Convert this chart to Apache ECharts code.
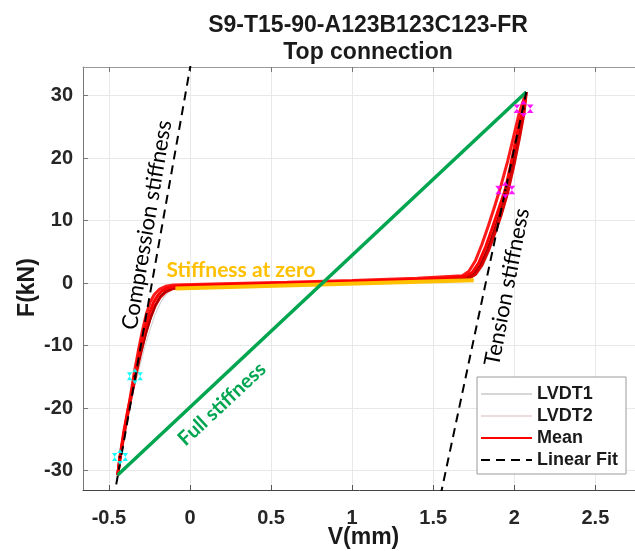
<!DOCTYPE html>
<html>
<head>
<meta charset="utf-8">
<script src="https://cdn.jsdelivr.net/npm/echarts@6/dist/echarts.min.js"></script>
<style>
html,body{margin:0;padding:0;background:#fff;}
#chart{width:635px;height:551px;}
</style>
</head>
<body>
<div id="chart"></div>
<script>
// ---------- data ----------
var titleLine1 = 'S9-T15-90-A123B123C123-FR';
var titleLine2 = 'Top connection';
var xTicks = [-0.5, 0, 0.5, 1, 1.5, 2, 2.5];
var yTicks = [-30, -20, -10, 0, 10, 20, 30];

var meanCurve = [[-0.446,-30.7],[-0.432,-27.8],[-0.41,-24],[-0.385,-20.5],[-0.36,-17.5],[-0.34,-14.9],[-0.32,-12.2],[-0.30,-9.6],[-0.275,-7.0],[-0.25,-4.8],[-0.225,-3.1],[-0.20,-2.0],[-0.175,-1.3],[-0.14,-0.8],[-0.10,-0.55],[-0.05,-0.4],[0.2,-0.25],[0.5,-0.05],[0.8,0.15],[1.1,0.35],[1.4,0.6],[1.6,0.85],[1.70,1.1],[1.74,1.7],[1.78,3.2],[1.82,5.6],[1.86,8.5],[1.90,11.6],[1.944,14.9],[1.975,18.6],[2.005,22.4],[2.035,26.0],[2.057,27.9],[2.074,30.6]];

var cycleA = [[-0.446,-30.7],[-0.43,-27.5],[-0.40,-23],[-0.37,-18.5],[-0.345,-14.5],[-0.32,-11],[-0.295,-7.8],[-0.27,-5.0],[-0.245,-3.0],[-0.22,-1.8],[-0.19,-1.0],[-0.15,-0.5],[-0.10,-0.3],[0.2,-0.1],[0.6,0.15],[1.0,0.45],[1.4,0.8],[1.68,1.2],[1.72,1.9],[1.76,3.6],[1.80,6.2],[1.84,9.2],[1.88,12.4],[1.92,15.8],[1.96,19.6],[1.995,23.4],[2.03,27.2],[2.074,30.6]];
var cycleB = [[-0.446,-30.7],[-0.425,-27],[-0.395,-22.5],[-0.365,-18.5],[-0.335,-14.8],[-0.305,-11.3],[-0.275,-8.2],[-0.245,-5.6],[-0.215,-3.6],[-0.185,-2.3],[-0.15,-1.4],[-0.11,-0.9],[-0.06,-0.7],[0.2,-0.5],[0.6,-0.25],[1.0,0.0],[1.4,0.3],[1.72,0.8],[1.76,1.4],[1.80,2.9],[1.84,5.2],[1.88,8.0],[1.92,11.0],[1.96,14.6],[1.995,18.6],[2.03,23.0],[2.06,27.2],[2.074,30.6]];
var cycleC = [[-0.44,-29.5],[-0.42,-26],[-0.39,-21.5],[-0.36,-17.8],[-0.33,-14.2],[-0.30,-10.8],[-0.27,-7.9],[-0.24,-5.4],[-0.21,-3.4],[-0.18,-2.0],[-0.145,-1.2],[-0.10,-0.7],[-0.05,-0.5],[0.3,-0.3],[0.7,-0.05],[1.1,0.2],[1.5,0.55],[1.71,0.95],[1.75,1.6],[1.79,3.0],[1.83,5.3],[1.87,8.2],[1.91,11.3],[1.95,14.9],[1.99,19.2],[2.02,23.2],[2.05,27.0],[2.07,30.0]];

var lvdt1 = [[-0.44,-30],[-0.42,-26.5],[-0.39,-22],[-0.355,-18],[-0.32,-14.3],[-0.285,-10.8],[-0.25,-7.7],[-0.215,-5.0],[-0.18,-3.0],[-0.145,-1.7],[-0.11,-1.0],[-0.06,-0.7],[0.3,-0.5],[0.8,-0.2],[1.3,0.2],[1.72,0.7],[1.77,1.4],[1.81,2.9],[1.85,5.3],[1.89,8.3],[1.93,11.5],[1.97,15.2],[2.01,19.6],[2.04,23.8],[2.07,29.5]];
var lvdt2 = [[-0.445,-30.3],[-0.425,-27],[-0.40,-23],[-0.375,-19.5],[-0.35,-16.2],[-0.325,-13.0],[-0.30,-10.0],[-0.275,-7.2],[-0.25,-4.8],[-0.225,-3.0],[-0.195,-1.7],[-0.16,-0.9],[-0.12,-0.5],[0.3,-0.2],[0.8,0.1],[1.3,0.5],[1.68,1.0],[1.72,1.8],[1.76,3.4],[1.80,5.9],[1.84,8.9],[1.88,12.1],[1.92,15.5],[1.96,19.4],[2.00,23.6],[2.04,28.0],[2.07,30.3]];

var compressionFit = [[-0.455,-32.2],[0.004,35.0]];
var tensionFit = [[1.545,-34.0],[2.074,30.6]];
var fullStiffness = [[-0.446,-30.7],[2.074,30.6]];
var zeroStiffness = [[-0.09,-0.85],[1.75,0.48]];

var cyanPoints = [[-0.432,-27.8],[-0.34,-14.9]];
var magentaPoints = [[1.944,14.9],[2.057,27.9]];

var annotations = [
  {text:'Compression stiffness', x:147, y:225, angle:80.5, color:'#000000', weight:'normal', size:22},
  {text:'Stiffness at zero', x:241, y:270, angle:0, color:'#FFC000', weight:'bold', size:21},
  {text:'Full stiffness', x:222, y:404, angle:43, color:'#00A550', weight:'bold', size:20},
  {text:'Tension stiffness', x:507, y:287, angle:79, color:'#000000', weight:'normal', size:22}
];

// ---------- chart ----------
var chart = echarts.init(document.getElementById('chart'), null, {renderer:'canvas'});
var fontFam = 'Arial, "Liberation Sans", sans-serif';
var annFont = 'Lato, "Open Sans", sans-serif';

function lineSeries(name, data, color, width, extra) {
  var s = {
    name: name, type: 'line', data: data, showSymbol: false, symbol: 'none',
    lineStyle: {color: color, width: width}, itemStyle: {color: color},
    animation: false, silent: true, clip: true, z: 2
  };
  if (extra) { for (var k in extra) s[k] = extra[k]; }
  return s;
}

var hexagram = 'path://M0,-10L8.66,5L-8.66,5ZM0,10L8.66,-5L-8.66,-5Z';

var option = {
  backgroundColor: '#ffffff',
  animation: false,
  title: [
    {text: titleLine1, left: 363, top: 9, textAlign: 'center',
     textStyle: {fontFamily: fontFam, fontSize: 23, fontWeight: 'bold', color: '#1a1a1a'}},
    {text: titleLine2, left: 363, top: 36, textAlign: 'center',
     textStyle: {fontFamily: fontFam, fontSize: 23, fontWeight: 'bold', color: '#1a1a1a'}}
  ],
  grid: {left: 83, right: -9, top: 67, bottom: 61, containLabel: false, outerBoundsMode: 'none'},
  legend: {
    data: ['LVDT1', 'LVDT2', 'Mean', 'Linear Fit'],
    orient: 'vertical', left: 477, top: 377,
    backgroundColor: '#ffffff', borderColor: '#9a9a9a', borderWidth: 1,
    padding: [8, 8, 5, 3], itemWidth: 51, itemHeight: 12, itemGap: 4,
    itemStyle: {color: 'rgba(0,0,0,0)', borderWidth: 0, opacity: 0},
    textStyle: {fontFamily: fontFam, fontSize: 18, fontWeight: 'bold', color: '#1a1a1a'},
    selectedMode: false
  },
  xAxis: [{
    type: 'value', min: -0.66, max: 2.8, position: 'bottom',
    name: 'V(mm)', nameLocation: 'middle', nameGap: 36, nameMoveOverlap: false,
    nameTextStyle: {fontFamily: fontFam, fontSize: 23, fontWeight: 'bold', color: '#1a1a1a'},
    axisLine: {show: true, onZero: false, lineStyle: {color: '#444', width: 1}},
    axisTick: {show: true, inside: true, length: 5, customValues: xTicks, lineStyle: {color: '#555'}},
    axisLabel: {customValues: xTicks, margin: 18, fontFamily: fontFam, fontSize: 20, fontWeight: 'bold', color: '#262626'},
    splitLine: {show: true, lineStyle: {color: '#e8e8e8', width: 1}}
  }, {
    type: 'value', min: -0.66, max: 2.8, position: 'top',
    axisLine: {show: true, onZero: false, lineStyle: {color: '#9a9a9a', width: 1}},
    axisTick: {show: true, inside: true, length: 5, customValues: xTicks, lineStyle: {color: '#777'}},
    axisLabel: {show: false}, splitLine: {show: false}
  }],
  yAxis: [{
    type: 'value', min: -33.1, max: 34.6,
    name: 'F(kN)', nameLocation: 'middle', nameGap: 44, nameMoveOverlap: false,
    nameTextStyle: {fontFamily: fontFam, fontSize: 23, fontWeight: 'bold', color: '#1a1a1a', padding: [0, 18, 0, 0]},
    axisLine: {show: true, onZero: false, lineStyle: {color: '#777', width: 1}},
    axisTick: {show: true, inside: true, length: 5, customValues: yTicks, lineStyle: {color: '#777'}},
    axisLabel: {customValues: yTicks, margin: 10, fontFamily: fontFam, fontSize: 20, fontWeight: 'bold', color: '#262626'},
    splitLine: {show: true, lineStyle: {color: '#e8e8e8', width: 1}}
  }],
  series: [
    lineSeries('LVDT1', lvdt1, '#d6d6d6', 1.2),
    lineSeries('LVDT2', lvdt2, '#ecdcdc', 1.2),
    lineSeries('cycleA', cycleA, '#ff1a1a', 3),
    lineSeries('cycleB', cycleB, '#e00000', 3),
    lineSeries('cycleC', cycleC, '#a80000', 1.8),
    lineSeries('Mean', meanCurve, '#ff0000', 3, {z: 3}),
    lineSeries('zero', zeroStiffness, '#FFC000', 4, {z: 4}),
    lineSeries('full', fullStiffness, '#00A550', 3.5, {z: 4}),
    lineSeries('Linear Fit', compressionFit, '#000000', 2, {z: 5, lineStyle: {color: '#000', width: 2, type: [9, 6]}}),
    lineSeries('Linear Fit', tensionFit, '#000000', 2, {z: 5, lineStyle: {color: '#000', width: 2, type: [9, 6]}}),
    {name: 'cyanPts', type: 'scatter', data: cyanPoints, symbol: hexagram, symbolSize: 16,
     itemStyle: {color: '#00ffff', opacity: 0.9}, z: 6, silent: true, animation: false},
    {name: 'magentaPts', type: 'scatter', data: magentaPoints, symbol: hexagram, symbolSize: [20, 17],
     itemStyle: {color: '#ff00ff', opacity: 0.9}, z: 6, silent: true, animation: false},
    {name: 'centers', type: 'scatter', data: cyanPoints.concat(magentaPoints), symbol: 'circle', symbolSize: 3,
     itemStyle: {color: '#000'}, z: 7, silent: true, animation: false}
  ],
  graphic: annotations.map(function (a) {
    return {
      type: 'text', x: a.x, y: a.y, rotation: a.angle * Math.PI / 180, z: 100,
      style: {text: a.text, fill: a.color, textAlign: 'center', textVerticalAlign: 'middle',
              font: a.weight + ' ' + a.size + 'px ' + annFont}
    };
  })
};
chart.setOption(option);
</script>
</body>
</html>
